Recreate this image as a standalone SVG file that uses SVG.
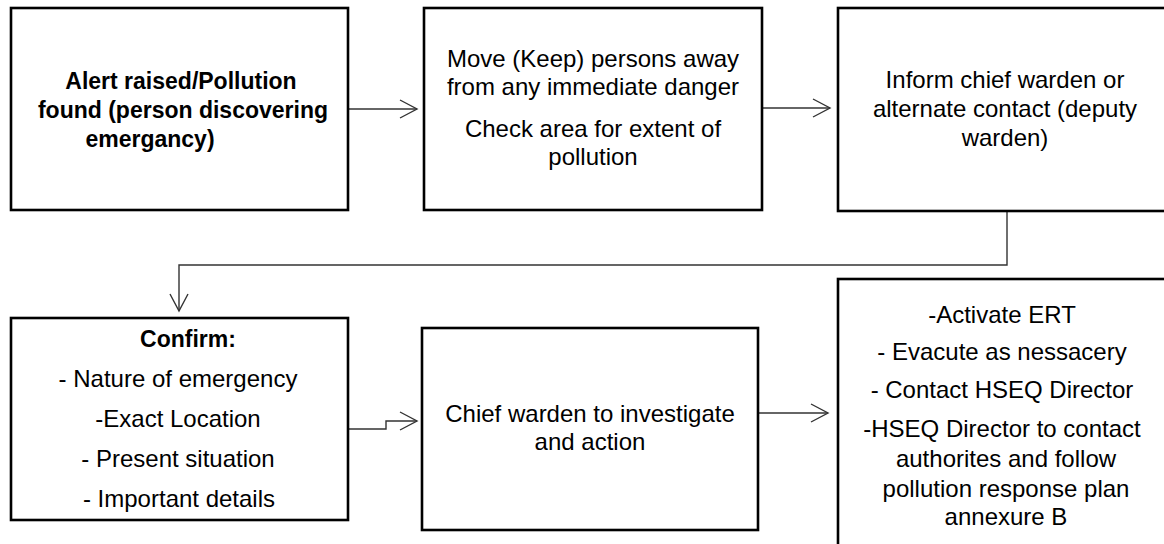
<svg xmlns="http://www.w3.org/2000/svg" width="1164" height="544" viewBox="0 0 1164 544">
<style>
.box{fill:#fff;stroke:#000;stroke-width:2.6}
.t{font-family:"Liberation Sans",Arial,sans-serif;font-size:24px;fill:#000;text-anchor:middle}
.b{font-weight:bold;font-size:23px}
.c{fill:none;stroke:#333;stroke-width:1.4}
</style>
<defs>
<marker id="ah" markerUnits="userSpaceOnUse" markerWidth="20" markerHeight="22" viewBox="-18 -10 20 20" refX="0" refY="0" orient="auto" overflow="visible">
<path d="M-17,-9 L0,0 L-17,9" fill="none" stroke="#333" stroke-width="1.4"/>
</marker>
</defs>
<rect width="1164" height="544" fill="#fff"/>
<g id="connectors">
<path class="c" d="M349,109 H417" marker-end="url(#ah)"/>
<path class="c" d="M762,108 H830" marker-end="url(#ah)"/>
<path class="c" d="M1007,211 V265 H179 V311" marker-end="url(#ah)"/>
<path class="c" d="M348,429 H386 V421 H417" marker-end="url(#ah)"/>
<path class="c" d="M758,413 H828" marker-end="url(#ah)"/>
</g>
<g id="node1">
<rect class="box" x="11" y="8" width="337" height="202"/>
<text class="t b" x="181" y="89">Alert raised/Pollution</text>
<text class="t b" x="183" y="118">found (person discovering</text>
<text class="t b" x="150" y="147">emergancy)</text>
</g>
<g id="node2">
<rect class="box" x="424" y="8" width="338" height="202"/>
<text class="t" x="593" y="67">Move (Keep) persons away</text>
<text class="t" x="593" y="95">from any immediate danger</text>
<text class="t" x="593" y="137">Check area for extent of</text>
<text class="t" x="593" y="165">pollution</text>
</g>
<g id="node3">
<rect class="box" x="838" y="8" width="340" height="203"/>
<text class="t" x="1005" y="88">Inform chief warden or</text>
<text class="t" x="1005" y="117">alternate contact (deputy</text>
<text class="t" x="1005" y="146">warden)</text>
</g>
<g id="node4">
<rect class="box" x="11" y="318" width="337" height="202"/>
<text class="t b" x="188" y="347">Confirm:</text>
<text class="t" x="178" y="387">- Nature of emergency</text>
<text class="t" x="178" y="427">-Exact Location</text>
<text class="t" x="178" y="467">- Present situation</text>
<text class="t" x="179" y="507">- Important details</text>
</g>
<g id="node5">
<rect class="box" x="422" y="328" width="336" height="202"/>
<text class="t" x="590" y="422">Chief warden to investigate</text>
<text class="t" x="590" y="450">and action</text>
</g>
<g id="node6">
<rect class="box" x="838" y="279" width="340" height="290"/>
<text class="t" x="1002" y="323">-Activate ERT</text>
<text class="t" x="1002" y="360">- Evacute as nessacery</text>
<text class="t" x="1002" y="398">- Contact HSEQ Director</text>
<text class="t" x="1002" y="437">-HSEQ Director to contact</text>
<text class="t" x="1006" y="467">authorites and follow</text>
<text class="t" x="1006" y="497">pollution response plan</text>
<text class="t" x="1006" y="525">annexure B</text>
</g>
</svg>
